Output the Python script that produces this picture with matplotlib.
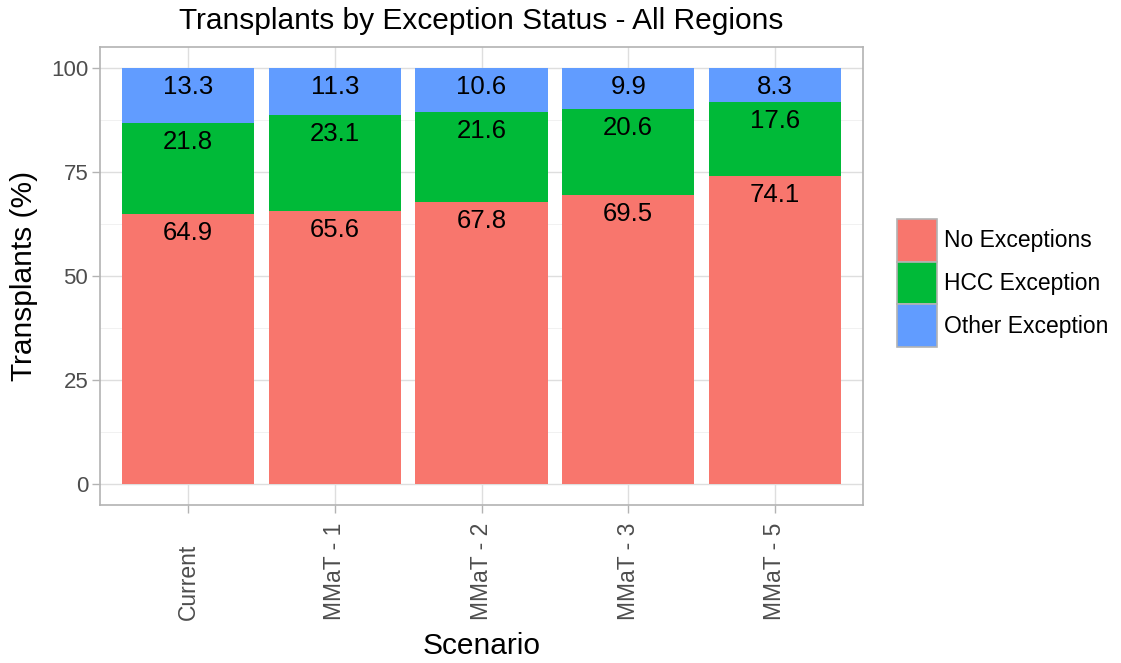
import matplotlib
matplotlib.use("Agg")
import matplotlib.pyplot as plt
from matplotlib.patches import Patch
from matplotlib.ticker import MultipleLocator
import numpy as np

plt.rcParams['font.family'] = ['Liberation Sans', 'DejaVu Sans']

scenarios = ["Current", "MMaT - 1", "MMaT - 2", "MMaT - 3", "MMaT - 5"]
no_exc = [64.9, 65.6, 67.8, 69.5, 74.1]
hcc_exc = [21.8, 23.1, 21.6, 20.6, 17.6]
other_exc = [13.3, 11.3, 10.6, 9.9, 8.3]
series_names = ["No Exceptions", "HCC Exception", "Other Exception"]
colors = ["#F8766D", "#00BA38", "#619CFF"]

W, H = 1121, 663
fig = plt.figure(figsize=(W/100, H/100), dpi=100)
ax = fig.add_axes([100/W, 1-505/H, 763/W, 458/H])

x = np.arange(len(scenarios))
bottoms = np.zeros(len(scenarios))
for vals, name, col in zip([no_exc, hcc_exc, other_exc], series_names, colors):
    vals = np.array(vals)
    ax.bar(x, vals, bottom=bottoms, width=0.9, color=col, zorder=2)
    tops = bottoms + vals
    for xi, t, v in zip(x, tops, vals):
        ax.annotate(f"{v:.1f}", (xi, t), xytext=(0, -5), textcoords="offset points",
                    ha="center", va="top", fontsize=18.5, color="black", zorder=3)
    bottoms = tops

ax.set_xlim(-0.6, len(scenarios) - 0.4)
ax.set_ylim(-5, 105)
ax.set_xticks(x)
ax.set_xticklabels(scenarios, rotation=90, fontsize=16.5, color="#4D4D4D")
for lbl in ax.get_xticklabels():
    lbl.set_va("bottom")
ax.set_yticks([0, 25, 50, 75, 100])
ax.yaxis.set_minor_locator(MultipleLocator(12.5))
ax.tick_params(axis="y", labelsize=16, labelcolor="#4D4D4D", pad=3)
ax.tick_params(axis="x", pad=77)
ax.tick_params(which="major", color="#B3B3B3", length=5.5, width=1)
ax.tick_params(which="minor", length=0)

ax.grid(True, which="major", color="#DEDEDE", linewidth=1.0, zorder=0)
ax.grid(True, which="minor", axis="y", color="#EFEFEF", linewidth=0.6, zorder=0)
ax.set_axisbelow(True)
for s in ax.spines.values():
    s.set_color("#B3B3B3")
    s.set_linewidth(1.2)

fig.text((100+863)/2/W, 1-21/H, "Transplants by Exception Status - All Regions",
         fontsize=21.5, ha="center", va="center")
ax.set_xlabel("Scenario", fontsize=21.5)
ax.xaxis.set_label_coords(0.5, -(632-505)/458)
ax.xaxis.label.set_va("top")
ax.set_ylabel("Transplants (%)", fontsize=21.5)
ax.yaxis.set_label_coords(-(100-24)/763, 0.5)
ax.yaxis.label.set_va("center")

handles = [Patch(facecolor=c, edgecolor="#B3B3B3", linewidth=1.2) for c in colors]
leg = fig.legend(handles, series_names, loc="center left", bbox_to_anchor=(897/W, 1-283/H),
                 frameon=False, fontsize=16.5, handlelength=1.75, handleheight=2.5,
                 handletextpad=0.3, labelspacing=0.0, borderpad=0.0, borderaxespad=0.0)

fig.savefig("out.png", dpi=100)
